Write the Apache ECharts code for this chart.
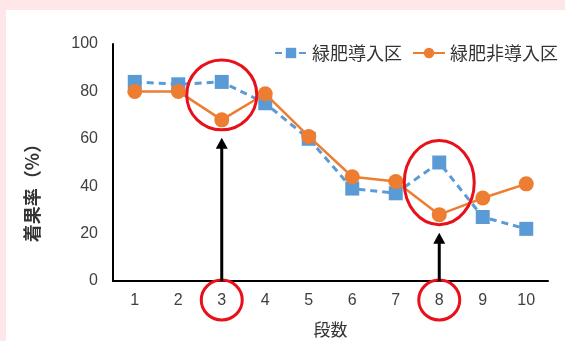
<!DOCTYPE html>
<html>
<head>
<meta charset="utf-8">
<script src="https://cdn.jsdelivr.net/npm/echarts@6/dist/echarts.min.js"></script>
<style>
  html, body { margin: 0; padding: 0; background: #ffe6e9; }
  #frame { position: absolute; left: 6px; top: 10px; width: 559px; height: 331px; background: #ffffff; }
  #chart { position: absolute; left: 0; top: 0; width: 565px; height: 341px; }
</style>
</head>
<body>
<div id="frame"></div>
<div id="chart"></div>
<script>
// 段数ごとの着果率（%）
const categories = ['1', '2', '3', '4', '5', '6', '7', '8', '9', '10'];
const greenManure = [84, 83, 84, 75, 60, 39, 37, 50, 27, 22];     // 緑肥導入区
const noGreenManure = [80, 80, 68, 79, 61, 44, 42, 28, 35, 41];   // 緑肥非導入区
const yTicks = { min: 0, max: 100, interval: 20 };
// 注目する段（0始まりの位置）
const highlighted = [2, 7];

const JP = '"Noto Sans CJK JP", "Liberation Sans", sans-serif';
const LABEL_FONT = '"Liberation Sans", "Noto Sans CJK JP", sans-serif';

const chart = echarts.init(document.getElementById('chart'), null, { renderer: 'canvas' });

chart.setOption({
  backgroundColor: 'transparent',
  animation: false,
  grid: { left: 113, right: 17, top: 44, bottom: 60, outerBoundsMode: 'none', containLabel: false },
  legend: {
    right: 2,
    top: 39,
    itemWidth: 32,
    itemHeight: 13,
    itemGap: 10,
    textStyle: { fontFamily: JP, fontSize: 18, color: '#333' },
    data: ['緑肥導入区', '緑肥非導入区']
  },
  xAxis: {
    type: 'category',
    data: categories,
    name: '段数',
    nameLocation: 'middle',
    nameGap: 40,
    nameTextStyle: { fontFamily: JP, fontSize: 17, color: '#333' },
    axisLine: { lineStyle: { color: '#000', width: 2 } },
    axisTick: { show: false },
    axisLabel: { fontFamily: LABEL_FONT, fontSize: 16, color: '#404040', margin: 12 },
    splitLine: { show: false }
  },
  yAxis: {
    type: 'value',
    min: yTicks.min,
    max: yTicks.max,
    interval: yTicks.interval,
    axisLine: { show: true, lineStyle: { color: '#000', width: 2 } },
    axisTick: { show: false },
    axisLabel: { fontFamily: LABEL_FONT, fontSize: 16, color: '#404040', margin: 15 },
    splitLine: { show: false }
  },
  series: [
    {
      name: '緑肥導入区',
      type: 'line',
      data: greenManure,
      symbol: 'rect',
      symbolSize: 14,
      itemStyle: { color: '#5b9bd5' },
      lineStyle: { color: '#5b9bd5', width: 3, type: [7, 5] },
      z: 2
    },
    {
      name: '緑肥非導入区',
      type: 'line',
      data: noGreenManure,
      symbol: 'circle',
      symbolSize: 15,
      itemStyle: { color: '#ed7d31' },
      lineStyle: { color: '#ed7d31', width: 2.5 },
      z: 3
    }
  ]
});

// 注目箇所の赤丸と矢印
function drawAnnotations() {
  const elements = [];
  const axisY = chart.convertToPixel({ gridIndex: 0 }, [0, 0])[1];
  highlighted.forEach(function (idx) {
    const a = greenManure[idx], b = noGreenManure[idx];
    const hi = Math.max(a, b), lo = Math.min(a, b);
    const pHi = chart.convertToPixel({ seriesIndex: 0 }, [idx, hi]);
    const pLo = chart.convertToPixel({ seriesIndex: 0 }, [idx, lo]);
    const cx = pHi[0];
    const top = pHi[1] - 22;
    const bottom = pLo[1] + 10;
    const cy = (top + bottom) / 2;
    const ry = (bottom - top) / 2;
    // データ点を囲む楕円
    elements.push({
      type: 'ellipse',
      shape: { cx: cx, cy: cy, rx: 35, ry: ry },
      style: { fill: 'none', stroke: '#e8101a', lineWidth: 3 },
      z: 10
    });
    // 軸ラベルを囲む円
    elements.push({
      type: 'ellipse',
      shape: { cx: cx, cy: axisY + 19, rx: 20.5, ry: 20 },
      style: { fill: 'none', stroke: '#e8101a', lineWidth: 3 },
      z: 10
    });
    // 軸から楕円へ向かう矢印
    const tipY = bottom + 8;
    elements.push({
      type: 'line',
      shape: { x1: cx, y1: axisY, x2: cx, y2: tipY + 9 },
      style: { stroke: '#000', lineWidth: 3 },
      z: 10
    });
    elements.push({
      type: 'polygon',
      shape: { points: [[cx, tipY], [cx - 6, tipY + 11], [cx + 6, tipY + 11]] },
      style: { fill: '#000' },
      z: 10
    });
  });
  // 縦軸タイトル
  const midY = (chart.convertToPixel({ gridIndex: 0 }, [0, yTicks.min])[1] +
                chart.convertToPixel({ gridIndex: 0 }, [0, yTicks.max])[1]) / 2;
  elements.push({
    type: 'text',
    x: 32,
    y: midY + 26,
    rotation: Math.PI / 2,
    style: {
      text: '着果率（%）',
      fontFamily: JP,
      fontSize: 18,
      fontWeight: 'bold',
      fill: '#333',
      align: 'center',
      verticalAlign: 'middle'
    }
  });
  chart.setOption({ graphic: { elements: elements } });
}
drawAnnotations();
</script>
</body>
</html>
